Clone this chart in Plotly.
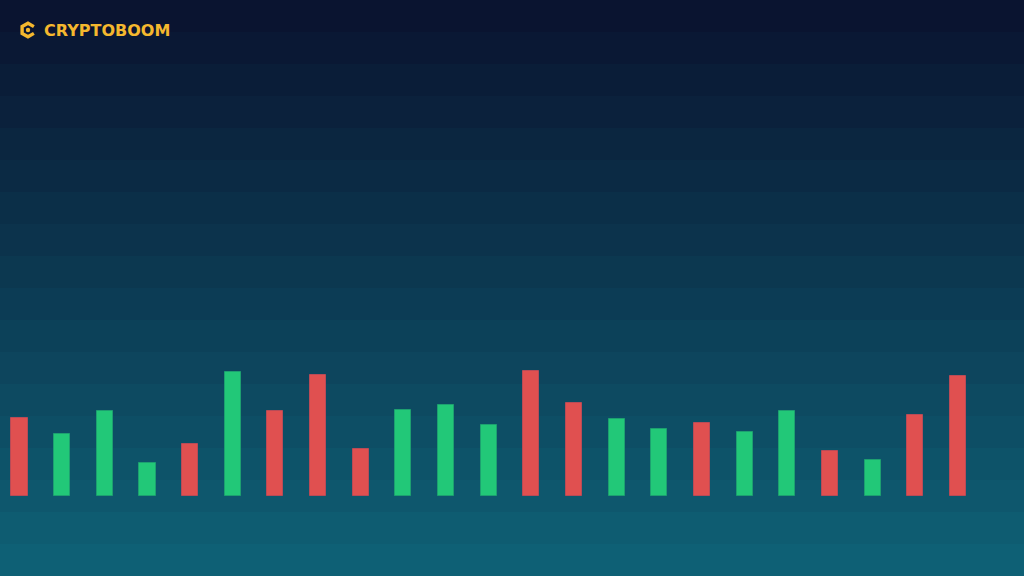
import math
import plotly.graph_objects as go

# Data
heights = [77.6, 62, 85, 33, 52, 123.6, 85, 120.6, 47, 86, 90.6, 70.6,
           124.6, 92.6, 77, 66.6, 72.3, 63.3, 85, 44.6, 35.6, 80.3, 119.3]
directions = ["down", "up", "up", "up", "down", "up", "down", "down", "down",
              "up", "up", "up", "down", "down", "up", "up", "down", "up", "up",
              "down", "up", "down", "down"]
positions = list(range(len(heights)))
brand = "CRYPTOBOOM"

W, H = 1024, 576
RED, GREEN = "#E05050", "#22C878"
RED_LINE, GREEN_LINE = "#B84B57", "#1DA070"
GOLD = "#F5B82E"

fill = [GREEN if d == "up" else RED for d in directions]
edge = [GREEN_LINE if d == "up" else RED_LINE for d in directions]

fig = go.Figure()
fig.add_trace(go.Bar(
    x=positions, y=heights, width=0.376,
    marker=dict(color=fill, line=dict(color=edge, width=1)),
    hoverinfo="skip",
))

# banded vertical gradient background
shapes = []
n = 18
top, bot = (10, 20, 48), (14, 96, 117)
for i in range(n):
    t = i / (n - 1)
    c = tuple(round(top[k] + (bot[k] - top[k]) * t) for k in range(3))
    shapes.append(dict(type="rect", xref="paper", yref="paper",
                       x0=0, x1=1, y0=1 - (i + 1) / n, y1=1 - i / n,
                       fillcolor="rgb(%d,%d,%d)" % c, line=dict(width=0),
                       layer="below"))


def px(x, y):
    return x / W, 1 - y / H


# logo icon: hexagon "C" open on the right, with centre dot
cx, cy, r = 28, 30, 6.8
hexpts = [px(cx + r * math.cos(math.radians(a)), cy + r * math.sin(math.radians(a)))
          for a in [-30, -90, -150, 150, 90, 30]]
path = "M %f %f " % hexpts[0] + " ".join("L %f %f" % p for p in hexpts[1:])
shapes.append(dict(type="path", xref="paper", yref="paper", path=path,
                   line=dict(color=GOLD, width=3.4), layer="above"))
d0 = px(cx - 2.2, cy - 2.2)
d1 = px(cx + 2.2, cy + 2.2)
shapes.append(dict(type="circle", xref="paper", yref="paper",
                   x0=d0[0], y0=d1[1], x1=d1[0], y1=d0[1],
                   fillcolor=GOLD, line=dict(width=0), layer="above"))

step = 42.66
fig.update_layout(
    width=W, height=H,
    margin=dict(l=0, r=0, t=0, b=0),
    paper_bgcolor="#0C3952",
    plot_bgcolor="rgba(0,0,0,0)",
    showlegend=False,
    shapes=shapes,
    xaxis=dict(range=[-19.5 / step, (W - 19.5) / step], visible=False, fixedrange=True),
    yaxis=dict(range=[-80.3, H - 80.3], visible=False, fixedrange=True),
    bargap=0,
    annotations=[dict(text=brand, xref="paper", yref="paper",
                      x=42 / W, y=1 - 30 / H, xanchor="left", yanchor="middle",
                      showarrow=False,
                      font=dict(family="DejaVu Sans", size=16, color=GOLD,
                                weight="bold"))],
)

fig.write_html("out.html", config={"displayModeBar": False},
               post_script="document.body.style.margin='0';")
